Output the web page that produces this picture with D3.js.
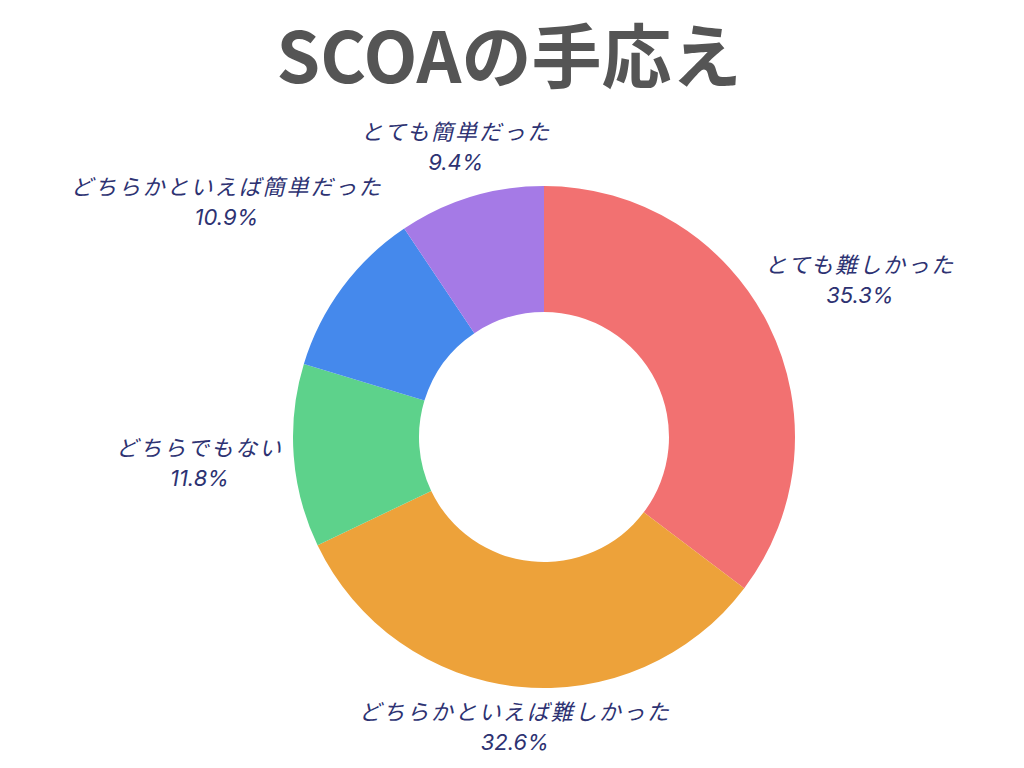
<!DOCTYPE html>
<html>
<head>
<meta charset="utf-8">
<script src="https://cdn.jsdelivr.net/npm/d3@7"></script>
<style>
  html, body { margin: 0; padding: 0; background: #ffffff; }
  svg { display: block; }
</style>
</head>
<body>
<svg id="chart" width="1024" height="768"></svg>
<script>
const title = "SCOAの手応え";
const categories = ["とても難しかった", "どちらかといえば難しかった", "どちらでもない", "どちらかといえば簡単だった", "とても簡単だった"];
const values = [35.3, 32.6, 11.8, 10.9, 9.4];
const colors = ["#f27171", "#eda23a", "#5dd28b", "#4589ec", "#a57ae6"];

const W = 1024, H = 768;
const cx = 544, cy = 437;
const outerR = 251, innerR = 125;

const svg = d3.select("#chart");

svg.append("text")
  .attr("x", 509)
  .attr("y", 83)
  .attr("text-anchor", "middle")
  .attr("font-family", "'Noto Sans CJK JP', 'Noto Sans', sans-serif")
  .attr("font-weight", 700)
  .attr("font-size", 70)
  .attr("fill", "#555555")
  .text(title);

const data = categories.map((c, i) => ({ label: c, value: values[i], color: colors[i] }));

const pie = d3.pie().value(d => d.value).sort(null);
const arcs = pie(data);
const arc = d3.arc().innerRadius(innerR).outerRadius(outerR);

const g = svg.append("g").attr("transform", `translate(${cx},${cy})`);

g.selectAll("path.slice")
  .data(arcs)
  .join("path")
  .attr("class", "slice")
  .attr("d", arc)
  .attr("fill", d => d.data.color);

const fmt = d3.format(".1f");

arcs.forEach(a => {
  const t = g.append("text")
    .attr("font-family", "Inter, 'Noto Sans CJK JP', sans-serif")
    .attr("font-style", "italic")
    .attr("font-size", 22)
    .attr("fill", "#2d3272")
    .attr("text-anchor", "middle");
  t.append("tspan").attr("x", 0).attr("y", 0)
    .attr("letter-spacing", 2)
    .text(a.data.label);
  t.append("tspan").attr("x", 0).attr("y", 30).text(fmt(a.data.value) + "%");
  const bb = t.node().getBBox();
  const mid = (a.startAngle + a.endAngle) / 2;
  const ux = Math.sin(mid), uy = -Math.cos(mid);
  const dist = outerR + 10 + Math.abs(ux) * bb.width / 2 + Math.abs(uy) * 15;
  const px = ux * dist, py = uy * dist;
  const bcx = bb.x + bb.width / 2, bcy = bb.y + bb.height / 2;
  t.attr("transform", `translate(${px - bcx},${py - bcy})`);
});
</script>
</body>
</html>
